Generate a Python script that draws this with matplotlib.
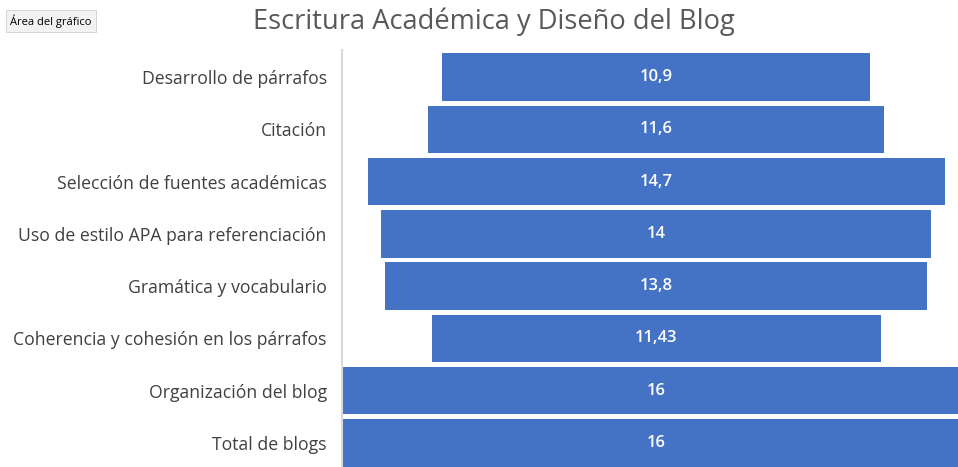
import numpy as np
import matplotlib.pyplot as plt

categorias = ["Desarrollo de párrafos", "Citación", "Selección de fuentes académicas",
              "Uso de estilo APA para referenciación", "Gramática y vocabulario",
              "Coherencia y cohesión en los párrafos", "Organización del blog", "Total de blogs"]
valores = [10.9, 11.6, 14.7, 14, 13.8, 11.43, 16, 16]
etiquetas = ["10,9", "11,6", "14,7", "14", "13,8", "11,43", "16", "16"]

plt.rcParams['font.family'] = ['Open Sans', 'DejaVu Sans']

fig = plt.figure(figsize=(9.58, 4.67), dpi=100)
ax = fig.add_axes([342/958, 0, 1 - 342/958, 417/467])

y = np.arange(len(valores))
v = np.array(valores)
ax.barh(y, v, left=-v/2, height=0.91, color="#4472c4")
for i in range(len(valores)):
    ax.text(0, y[i], etiquetas[i], ha="center", va="center", color="white",
            fontsize=12, fontweight="semibold")

ax.set_xlim(-8, 7.68)
ax.set_ylim(7.46, -0.52)
ax.set_xticks([])
ax.set_yticks(y)
ax.set_yticklabels(categorias, fontsize=12.7, color="#404040")
ax.tick_params(axis="y", length=0, pad=11)
for s in ["top", "right", "bottom"]:
    ax.spines[s].set_visible(False)
ax.spines["left"].set_color("#d9d9d9")
ax.spines["left"].set_linewidth(1.5)

fig.text(494/958, 1 - 22/467, "Escritura Académica y Diseño del Blog", ha="center", va="center",
         fontsize=19.6, color="#595959")
fig.text(10/958, 1 - 21/467, "Área del gráfico", ha="left", va="center", fontsize=8, color="black",
         bbox=dict(boxstyle="square,pad=0.4", fc="#f2f2f2", ec="#d0d0d0", lw=0.6))

plt.savefig("out.png", dpi=100)
